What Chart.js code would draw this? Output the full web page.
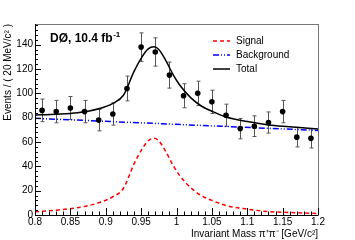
<!DOCTYPE html>
<html>
<head>
<meta charset="utf-8">
<script src="https://cdn.jsdelivr.net/npm/chart.js@4/dist/chart.umd.min.js"></script>
<style>
  html, body { margin: 0; padding: 0; background: #fff; }
  canvas { display: block; }
</style>
</head>
<body>
<canvas id="massChart" width="355" height="240"></canvas>
<script>
// data points (20 MeV bins)
const massBins = [0.81, 0.83, 0.85, 0.87, 0.89, 0.91, 0.93, 0.95, 0.97, 0.99,
                  1.01, 1.03, 1.05, 1.07, 1.09, 1.11, 1.13, 1.15, 1.17, 1.19];
const events = [86, 85, 88, 85, 78, 83, 104, 138, 134, 115,
                98, 100, 93, 82, 71, 73, 76, 85, 64, 63];
const eventErrors = [9.3, 9.2, 9.4, 9.2, 8.8, 9.1, 10.2, 11.7, 11.6, 10.7,
                     9.9, 10, 9.6, 9.1, 8.4, 8.5, 8.7, 9.2, 8, 7.9];

// fit curves
const curveMass = [0.80, 0.83, 0.86, 0.89, 0.91, 0.925, 0.94, 0.95, 0.96, 0.968, 0.975,
                   0.985, 0.995, 1.005, 1.02, 1.035, 1.05, 1.07, 1.10, 1.13, 1.16, 1.20];
const signalFit = [2.7, 4, 6, 10, 15, 22, 42, 53, 61, 63, 61,
                   52, 41, 32, 22.5, 16, 12, 7.8, 4.8, 2.8, 2.1, 1.2];
const totalFit = [82.2, 82.8, 84, 87.3, 91.8, 98.4, 118, 128.8, 136.5, 138.3, 136.1,
                  126.9, 115.6, 106.4, 96.5, 89.6, 85.3, 80.5, 76.8, 74, 72.6, 70.7];
const bkgMass = [0.80, 1.00, 1.20];
const backgroundFit = [79.5, 74.5, 69.5];

// axis ticks
const xTicks = [0.8, 0.85, 0.9, 0.95, 1, 1.05, 1.1, 1.15, 1.2];
const yTicks = [0, 20, 40, 60, 80, 100, 120, 140];

const FONT = "'Liberation Sans', Arial, sans-serif";

const toXY = (xs, ys) => xs.map((x, i) => ({ x: x, y: ys[i] }));

// error bars behind the markers
const errorBars = {
    id: 'errorBars',
    beforeDatasetsDraw(chart) {
        const { ctx, scales: { x, y } } = chart;
        ctx.save();
        ctx.strokeStyle = '#555';
        ctx.lineWidth = 1;
        massBins.forEach((m, i) => {
            const px = Math.round(x.getPixelForValue(m)) + 0.5;
            const top = y.getPixelForValue(events[i] + eventErrors[i]);
            const bot = y.getPixelForValue(events[i] - eventErrors[i]);
            ctx.beginPath();
            ctx.moveTo(px, top); ctx.lineTo(px, bot);
            ctx.moveTo(px - 2, top); ctx.lineTo(px + 2, top);
            ctx.moveTo(px - 2, bot); ctx.lineTo(px + 2, bot);
            ctx.stroke();
        });
        ctx.restore();
    }
};

// ROOT style frame, inner ticks, label and legend
const rootFrame = {
    id: 'rootFrame',
    afterDraw(chart) {
        const { ctx, chartArea: a, scales: { x, y } } = chart;
        ctx.save();
        ctx.lineWidth = 1;
        ctx.strokeStyle = '#777';
        ctx.strokeRect(a.left + 0.5, a.top + 0.5, a.right - a.left, a.bottom - a.top);
        ctx.strokeStyle = '#000';
        ctx.beginPath();
        ctx.moveTo(a.left + 0.5, a.top); ctx.lineTo(a.left + 0.5, a.bottom + 0.5);
        ctx.lineTo(a.right, a.bottom + 0.5);
        // y ticks
        for (let v = 0; v <= 156; v += 4) {
            const py = Math.round(y.getPixelForValue(v)) + 0.5;
            const len = v % 20 === 0 ? 6 : 3;
            ctx.moveTo(a.left, py); ctx.lineTo(a.left + len, py);
        }
        // x ticks
        for (let k = 0; k <= 40; k++) {
            const px = Math.round(x.getPixelForValue(0.8 + k * 0.01)) + 0.5;
            const len = k % 5 === 0 ? 7 : 3.5;
            ctx.moveTo(px, a.bottom); ctx.lineTo(px, a.bottom - len);
        }
        ctx.stroke();

        // experiment label
        ctx.fillStyle = '#000';
        ctx.textBaseline = 'alphabetic';
        ctx.font = 'bold 12px ' + FONT;
        const lbl = 'DØ, 10.4 fb';
        ctx.fillText(lbl, 50, 42);
        const w = ctx.measureText(lbl).width;
        ctx.font = 'bold 8px ' + FONT;
        ctx.fillText('-1', 50 + w + 0.5, 37);

        // legend
        ctx.font = '10px ' + FONT;
        ctx.textBaseline = 'middle';
        [1, 2, 3].forEach((di, r) => {
            const ds = chart.data.datasets[di];
            const ly = 41 + r * 14;
            ctx.strokeStyle = ds.borderColor;
            ctx.lineWidth = 1.5;
            ctx.setLineDash(ds.borderDash || []);
            ctx.beginPath();
            ctx.moveTo(213, ly); ctx.lineTo(230, ly);
            ctx.stroke();
            ctx.setLineDash([]);
            ctx.fillStyle = '#000';
            ctx.fillText(ds.label, 236, ly);
        });
        ctx.restore();
    }
};

const ctx = document.getElementById('massChart').getContext('2d');
new Chart(ctx, {
    type: 'scatter',
    data: {
        datasets: [
            {
                label: 'Data',
                data: toXY(massBins, events),
                backgroundColor: '#000',
                borderColor: '#000',
                borderWidth: 0,
                pointRadius: 2.8,
                order: 0
            },
            {
                label: 'Signal',
                data: toXY(curveMass, signalFit),
                showLine: true,
                borderColor: '#ff0000',
                borderDash: [4, 3],
                borderWidth: 1.5,
                pointRadius: 0,
                cubicInterpolationMode: 'monotone',
                order: 3
            },
            {
                label: 'Background',
                data: toXY(bkgMass, backgroundFit),
                showLine: true,
                borderColor: '#0000ff',
                borderDash: [6, 2, 1, 2, 1, 2],
                borderWidth: 1.5,
                pointRadius: 0,
                order: 2
            },
            {
                label: 'Total',
                data: toXY(curveMass, totalFit),
                showLine: true,
                borderColor: '#000',
                borderWidth: 1.5,
                pointRadius: 0,
                cubicInterpolationMode: 'monotone',
                order: 1
            }
        ]
    },
    options: {
        responsive: false,
        animation: false,
        devicePixelRatio: 1,
        layout: { padding: { top: 24, right: 37, left: 0, bottom: 0 } },
        plugins: {
            legend: { display: false },
            tooltip: { enabled: false }
        },
        scales: {
            x: {
                type: 'linear',
                min: 0.8,
                max: 1.2,
                afterBuildTicks: s => { s.ticks = xTicks.map(v => ({ value: v })); },
                afterFit: s => { s.height = 25; },
                grid: { display: false, drawTicks: false },
                border: { display: false },
                ticks: {
                    color: '#000',
                    padding: 1,
                    autoSkip: false,
                    maxRotation: 0,
                    font: { size: 10, family: FONT },
                    callback: v => String(v)
                },
                title: {
                    display: true,
                    text: 'Invariant Mass π⁺π⁻ [GeV/c²]',
                    align: 'end',
                    color: '#000',
                    padding: { top: 0, bottom: 0 },
                    font: { size: 10, family: FONT }
                }
            },
            y: {
                type: 'linear',
                min: 0,
                max: 157,
                afterBuildTicks: s => { s.ticks = yTicks.map(v => ({ value: v })); },
                afterFit: s => { s.width = 35; },
                grid: { display: false, drawTicks: false },
                border: { display: false },
                ticks: {
                    color: '#000',
                    padding: 2,
                    font: { size: 10, family: FONT }
                },
                title: {
                    display: true,
                    text: 'Events / ( 20 MeV/c² )',
                    align: 'end',
                    color: '#000',
                    padding: { top: 2, bottom: 0 },
                    font: { size: 10, family: FONT }
                }
            }
        }
    },
    plugins: [errorBars, rootFrame]
});
</script>
</body>
</html>
